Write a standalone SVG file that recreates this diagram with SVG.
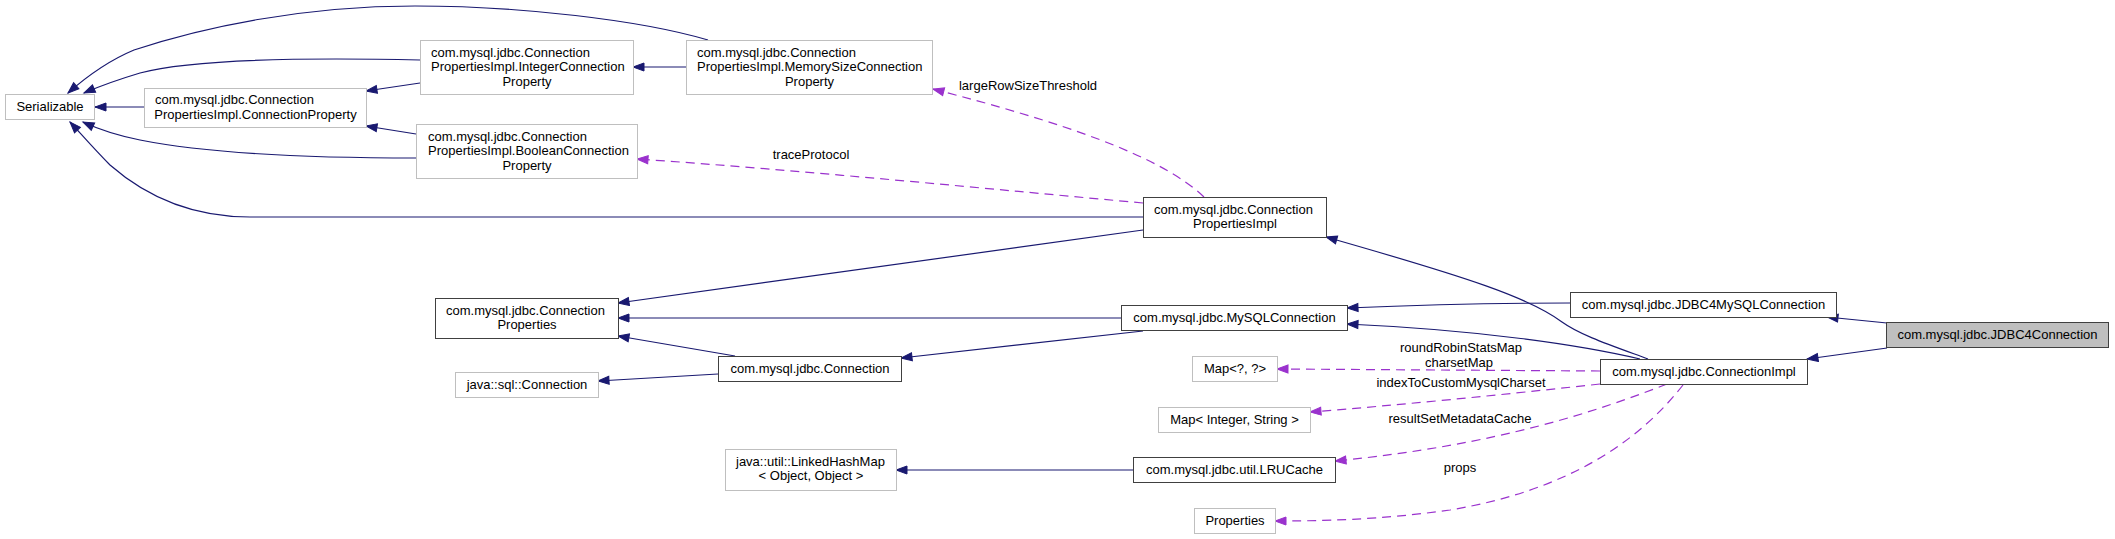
<svg xmlns="http://www.w3.org/2000/svg" width="2115" height="539" viewBox="0 0 2115 539">
<style>
text{font-family:"Liberation Sans",Arial,sans-serif;font-size:13px;fill:#000}
.c{text-anchor:middle}
.bk{fill:#fff;stroke:#404040;stroke-width:1}
.gr{fill:#fff;stroke:#bfbfbf;stroke-width:1}
.hl{fill:#bfbfbf;stroke:#404040;stroke-width:1}
.inh{fill:none;stroke:#191970;stroke-width:1.2;marker-end:url(#an)}
.use{fill:none;stroke:#9a32cd;stroke-width:1.2;stroke-dasharray:9,6;marker-end:url(#ap)}
</style>
<defs>
<marker id="an" markerUnits="userSpaceOnUse" markerWidth="12" markerHeight="9" refX="11" refY="4" orient="auto" overflow="visible"><path d="M0,0 L11,4 L0,8 z" fill="#191970" stroke="#191970"/></marker>
<marker id="ap" markerUnits="userSpaceOnUse" markerWidth="12" markerHeight="9" refX="11" refY="4" orient="auto" overflow="visible"><path d="M0,0 L11,4 L0,8 z" fill="#9a32cd" stroke="#9a32cd"/></marker>
</defs>
<rect width="2115" height="539" fill="#fff"/>
<g id="edges">
<path class="inh" d="M708,40 C640,20 520,6 415,6 C300,6 200,28 134,50 C110,60 85,78 68,93"/>
<path class="inh" d="M420,60 C330,58 200,57 140,73 C120,79 100,86 84,93"/>
<path class="inh" d="M144,107 L95,107"/>
<path class="inh" d="M420,83 L366,91"/>
<path class="inh" d="M416,134 L366,126"/>
<path class="inh" d="M416,158 C330,158 215,155 140,140 C120,136 98,129 83,122"/>
<path class="inh" d="M1143,217 L250,217 C195,217 150,200 110,165 C95,150 82,135 70,122"/>
<path class="inh" d="M686,67 L633,67"/>
<path class="inh" d="M1143,230 L618,303"/>
<path class="inh" d="M1121,318 L618,318"/>
<path class="inh" d="M735,356 L618,336"/>
<path class="inh" d="M718,374 L598,381"/>
<path class="inh" d="M1143,331 L901,358"/>
<path class="inh" d="M1570,303 C1500,303 1420,305 1347,308"/>
<path class="inh" d="M1640,359 C1580,345 1480,330 1347,324"/>
<path class="inh" d="M1648,359 C1610,345 1580,335 1562,322 C1530,298 1470,278 1326,237"/>
<path class="inh" d="M1887,323 L1827,317"/>
<path class="inh" d="M1887,348 L1807,359"/>
<path class="inh" d="M1133,470 L896,470"/>
<path class="use" d="M1204,197 C1160,155 1060,122 933,89"/>
<path class="use" d="M1143,203 C1000,190 800,170 637,159"/>
<path class="use" d="M1600,371 L1277,369"/>
<path class="use" d="M1600,384 C1500,395 1400,405 1310,412"/>
<path class="use" d="M1667,384 C1600,410 1500,445 1335,461"/>
<path class="use" d="M1683,385 C1640,440 1570,490 1450,510 C1380,520 1320,521 1275,521"/>
<text class="c" x="1028" y="89.5">largeRowSizeThreshold</text>
<text class="c" x="811" y="158.5">traceProtocol</text>
<text class="c" x="1461" y="351.5">roundRobinStatsMap</text>
<text class="c" x="1459" y="366.5">charsetMap</text>
<text class="c" x="1461" y="386.5">indexToCustomMysqlCharset</text>
<text class="c" x="1460" y="422.5">resultSetMetadataCache</text>
<text class="c" x="1460" y="471.5">props</text>
</g>
<g id="n_serializable"><rect class="gr" x="5.5" y="94.5" width="89" height="25"/><text class="c" x="50" y="111">Serializable</text></g>
<g id="n_connproperty"><rect class="gr" x="144.5" y="88.5" width="222" height="39"/><text x="155" y="104">com.mysql.jdbc.Connection</text><text class="c" x="255.5" y="118.5">PropertiesImpl.ConnectionProperty</text></g>
<g id="n_integer"><rect class="gr" x="420.5" y="40.5" width="213" height="54"/><text x="431" y="56.5">com.mysql.jdbc.Connection</text><text x="431" y="71">PropertiesImpl.IntegerConnection</text><text class="c" x="527" y="85.5">Property</text></g>
<g id="n_boolean"><rect class="gr" x="416.5" y="124.5" width="221" height="54"/><text x="428" y="140.5">com.mysql.jdbc.Connection</text><text x="428" y="155">PropertiesImpl.BooleanConnection</text><text class="c" x="527" y="169.5">Property</text></g>
<g id="n_memsize"><rect class="gr" x="686.5" y="40.5" width="246" height="54"/><text x="697" y="56.5">com.mysql.jdbc.Connection</text><text x="697" y="71">PropertiesImpl.MemorySizeConnection</text><text class="c" x="809.5" y="85.5">Property</text></g>
<g id="n_cpimpl"><rect class="bk" x="1143.5" y="197.5" width="183" height="40"/><text x="1154" y="213.5">com.mysql.jdbc.Connection</text><text class="c" x="1235" y="228">PropertiesImpl</text></g>
<g id="n_connprops"><rect class="bk" x="435.5" y="298.5" width="183" height="40"/><text x="446" y="314.5">com.mysql.jdbc.Connection</text><text class="c" x="527" y="329">Properties</text></g>
<g id="n_sqlconn"><rect class="gr" x="455.5" y="372.5" width="143" height="25"/><text class="c" x="527" y="389">java::sql::Connection</text></g>
<g id="n_conn"><rect class="bk" x="718.5" y="356.5" width="183" height="25"/><text class="c" x="810" y="373">com.mysql.jdbc.Connection</text></g>
<g id="n_mysqlconn"><rect class="bk" x="1121.5" y="305.5" width="226" height="25"/><text class="c" x="1234.5" y="322">com.mysql.jdbc.MySQLConnection</text></g>
<g id="n_jdbc4mysql"><rect class="bk" x="1570.5" y="292.5" width="266" height="25"/><text class="c" x="1703.5" y="309">com.mysql.jdbc.JDBC4MySQLConnection</text></g>
<g id="n_jdbc4conn"><rect class="hl" x="1886.5" y="322.5" width="222" height="25"/><text class="c" x="1997.5" y="339">com.mysql.jdbc.JDBC4Connection</text></g>
<g id="n_connimpl"><rect class="bk" x="1600.5" y="359.5" width="207" height="25"/><text class="c" x="1704" y="376">com.mysql.jdbc.ConnectionImpl</text></g>
<g id="n_map1"><rect class="gr" x="1192.5" y="356.5" width="85" height="25"/><text class="c" x="1235" y="373">Map&lt;?, ?&gt;</text></g>
<g id="n_map2"><rect class="gr" x="1158.5" y="407.5" width="152" height="25"/><text class="c" x="1234.5" y="424">Map&lt; Integer, String &gt;</text></g>
<g id="n_lru"><rect class="bk" x="1133.5" y="457.5" width="202" height="25"/><text class="c" x="1234.5" y="474">com.mysql.jdbc.util.LRUCache</text></g>
<g id="n_props"><rect class="gr" x="1194.5" y="508.5" width="81" height="25"/><text class="c" x="1235" y="525">Properties</text></g>
<g id="n_lhm"><rect class="gr" x="725.5" y="449.5" width="171" height="41"/><text x="736" y="465.5">java::util::LinkedHashMap</text><text class="c" x="811" y="480">&lt; Object, Object &gt;</text></g>
</svg>
